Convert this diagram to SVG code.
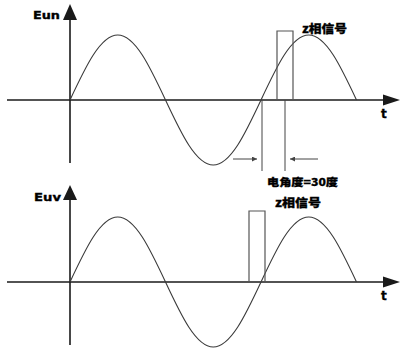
<svg xmlns="http://www.w3.org/2000/svg" width="401" height="349" viewBox="0 0 401 349">
<defs>
<style>
.axis{stroke:#1a1a1a;stroke-width:1.6;fill:none}
.head{fill:#1a1a1a;stroke:none}
.wave{stroke:#3a3a3a;stroke-width:1.1;fill:none}
.pulse{stroke:#555;stroke-width:1.2;fill:none}
.dim{stroke:#444;stroke-width:1;fill:none}
.lbl{font-family:"DejaVu Sans","Liberation Sans",Arial,sans-serif;font-weight:bold;fill:#000;stroke:#000;stroke-width:0.35}
.cjk{font-family:"Noto Sans CJK SC","Liberation Sans",sans-serif;font-weight:900;fill:#000;stroke:#000;stroke-width:0.3}
</style>
<marker id="ah" viewBox="0 0 10 10" refX="10" refY="5" markerWidth="7" markerHeight="5" orient="auto" markerUnits="userSpaceOnUse">
<path d="M0,0 L10,5 L0,10 z" fill="#444"/>
</marker>
</defs>
<rect width="401" height="349" fill="#fff"/>

<g id="plot-eun">
<line class="axis" x1="7" y1="100" x2="386" y2="100"/>
<polygon class="head" points="383,94.5 400,100 383,105.5"/>
<line class="axis" x1="70" y1="18" x2="70" y2="163"/>
<polygon class="head" points="63,20 70,4 77,20"/>
<text class="lbl" x="33" y="19" font-size="11" textLength="27" lengthAdjust="spacingAndGlyphs">Eun</text>
<text class="lbl" x="381" y="118" font-size="12">t</text>
<path class="wave" d="M70,100 C85.57,66.7 100.47,35 117.75,35 C135.03,35 149.93,66.7 165.5,100 C181.07,133.3 195.97,165 213.25,165 C230.53,165 245.43,133.3 261,100 C276.57,66.7 291.47,35 308.75,35 C326.03,35 340.93,66.7 356.5,100"/>
</g>

<g id="pulse-top">
<polyline class="pulse" points="277,100 277,31 293,31 293,100"/>
<text class="cjk" x="302" y="33" font-size="11" textLength="45" lengthAdjust="spacingAndGlyphs">z相信号</text>
</g>

<g id="angle-dim">
<line class="dim" x1="262" y1="100" x2="262" y2="171"/>
<line class="dim" x1="285" y1="100" x2="285" y2="171"/>
<text class="cjk" x="267" y="186" font-size="10.5" textLength="71" lengthAdjust="spacingAndGlyphs">电角度=30度</text>
</g>

<g id="plot-euv">
<line class="axis" x1="7" y1="282" x2="386" y2="282"/>
<polygon class="head" points="383,276.5 400,282 383,287.5"/>
<line class="axis" x1="70" y1="198" x2="70" y2="345"/>
<polygon class="head" points="63,200 70,185 77,200"/>
<text class="lbl" x="34" y="201" font-size="11" textLength="27" lengthAdjust="spacingAndGlyphs">Euv</text>
<text class="lbl" x="381" y="300" font-size="12">t</text>
<path class="wave" d="M70,282 C85.57,248.7 100.47,217 117.75,217 C135.03,217 149.93,248.7 165.5,282 C181.07,315.3 195.97,347 213.25,347 C230.53,347 245.43,315.3 261,282 C276.57,248.7 291.47,217 308.75,217 C326.03,217 340.93,248.7 356.5,282"/>
</g>

<g id="pulse-bottom">
<polyline class="pulse" points="249,282 249,211 265,211 265,282"/>
<text class="cjk" x="275" y="207" font-size="11" textLength="46" lengthAdjust="spacingAndGlyphs">z相信号</text>
</g>

<g id="connectors">
<line class="dim" x1="233" y1="159" x2="257" y2="159" marker-end="url(#ah)"/>
<line class="dim" x1="318" y1="159" x2="290" y2="159" marker-end="url(#ah)"/>
</g>
</svg>
